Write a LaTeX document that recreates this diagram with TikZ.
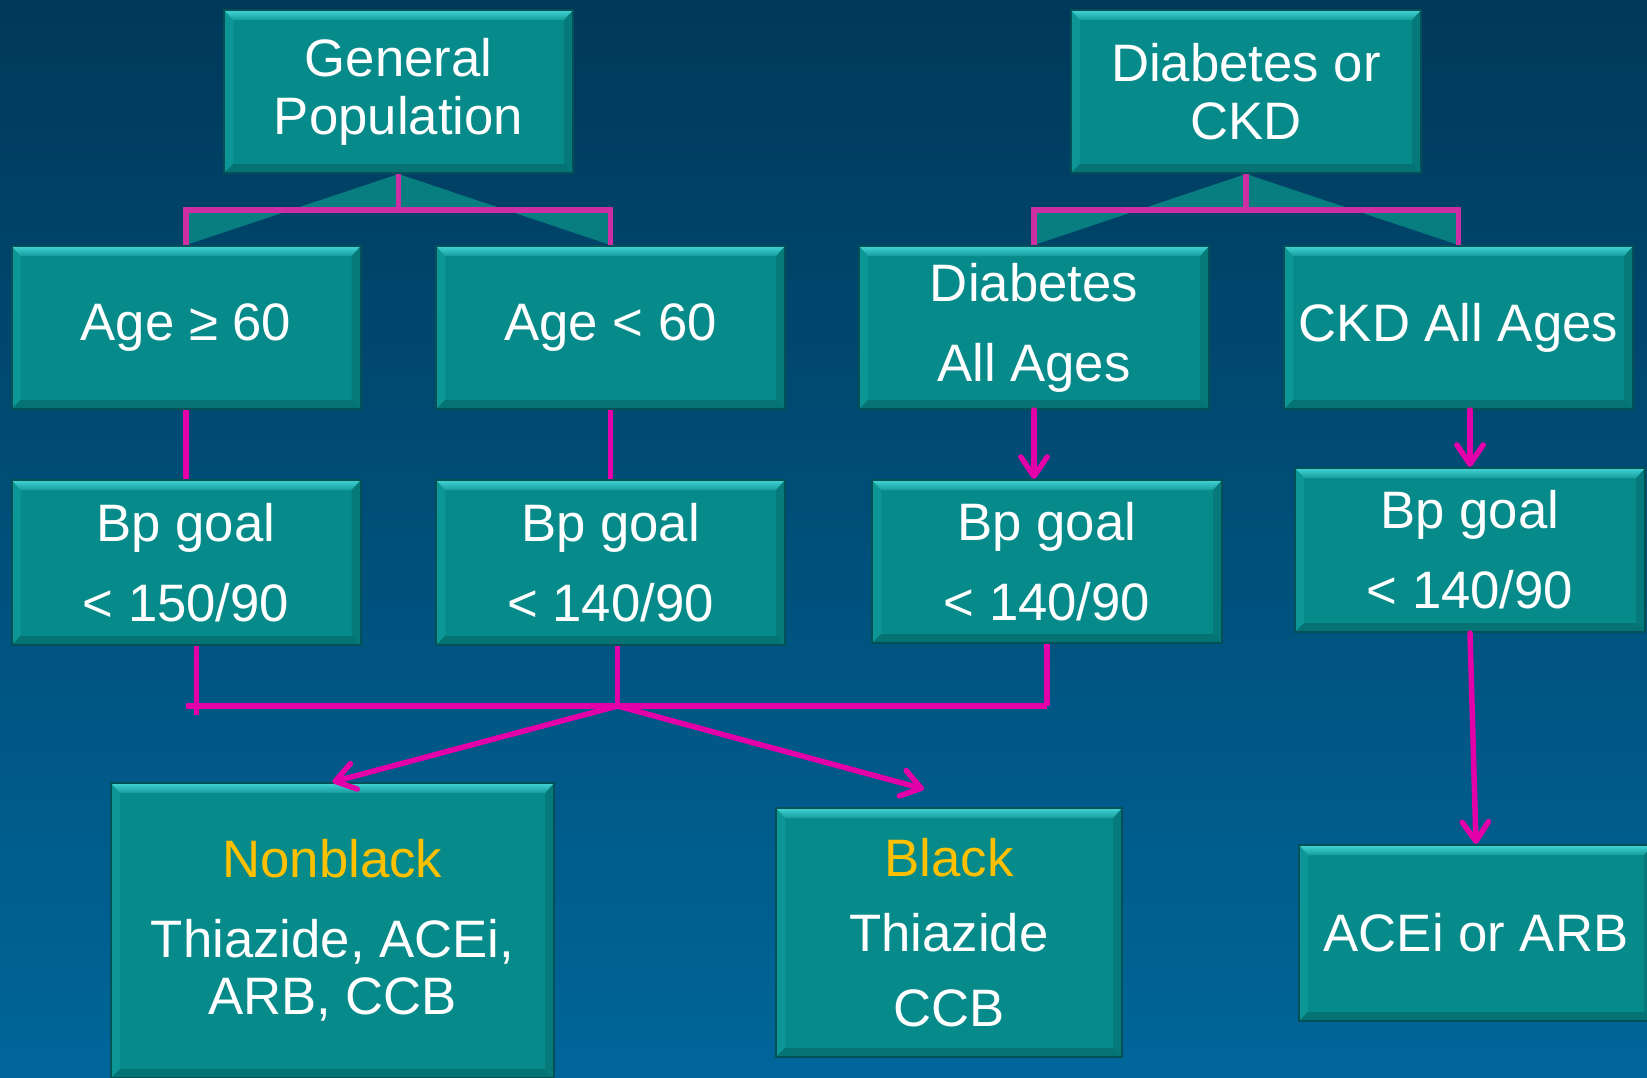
\documentclass[tikz,border=0pt]{standalone}
\usepackage{fontspec}
\setmainfont{Liberation Sans}
\usepackage{xcolor}
\definecolor{bgtop}{RGB}{0,57,90}
\definecolor{bgbot}{RGB}{0,102,154}
\definecolor{boxfill}{RGB}{7,138,138}
\definecolor{boxedge}{RGB}{3,80,86}
\definecolor{bevtop}{RGB}{66,212,212}
\definecolor{bevleft}{RGB}{12,150,150}
\definecolor{bevright}{RGB}{6,122,122}
\definecolor{bevbot}{RGB}{5,114,115}
\definecolor{wedgefill}{RGB}{8,126,128}
\definecolor{linkpink}{RGB}{228,0,168}
\definecolor{toppink}{RGB}{206,46,164}
\definecolor{ybl}{RGB}{255,192,0}
\usepackage{tikz}
\usetikzlibrary{arrows.meta, calc}
\newdimen\pxu \pxu=0.02cm

\begin{document}
\begin{tikzpicture}[
        x=0.02cm, y=-0.02cm,
        bevel/.style={path picture={
            \fill[bevleft] (path picture bounding box.north west) -- ([shift={(9,10)}]path picture bounding box.north west)
                -- ([shift={(9,-9)}]path picture bounding box.south west) -- (path picture bounding box.south west) -- cycle;
            \fill[bevright] (path picture bounding box.north east) -- ([shift={(-9,10)}]path picture bounding box.north east)
                -- ([shift={(-9,-9)}]path picture bounding box.south east) -- (path picture bounding box.south east) -- cycle;
            \fill[bevbot] (path picture bounding box.south west) -- ([shift={(9,-9)}]path picture bounding box.south west)
                -- ([shift={(-9,-9)}]path picture bounding box.south east) -- (path picture bounding box.south east) -- cycle;
            \shade[top color=bevtop, bottom color=boxfill!75!bevtop] (path picture bounding box.north west) -- (path picture bounding box.north east)
                -- ([shift={(-9,10)}]path picture bounding box.north east) -- ([shift={(9,10)}]path picture bounding box.north west) -- cycle;
        }},
        box/.style={rectangle, draw=boxedge, line width=2\pxu, fill=boxfill, bevel, text=white, align=center, inner sep=0pt,
            minimum width=349\pxu, minimum height=163\pxu, font=\fontsize{30pt}{45.5pt}\selectfont},
        tightbox/.style={box, font=\fontsize{30pt}{33pt}\selectfont},
        link/.style={draw=linkpink, line width=5.5\pxu},
        toplink/.style={draw=toppink, line width=5.5\pxu},
        arrow/.style={link, line cap=round, -{Straight Barb[length=11pt, width=15pt, round]}},
        wedge/.style={fill=wedgefill}
    ]
        % Background
        \shade[top color=bgtop, bottom color=bgbot] (0,0) rectangle (1647,1078);
        \useasboundingbox (0,0) rectangle (1647,1078);

        % Top level
        \node[tightbox] (genpop) at (398.5,91.5) {General\\Population};
        \node[tightbox, minimum width=350\pxu] (dmckd) at (1246,91.5) {Diabetes or\\CKD};

        % Groups
        \node[box] (agehi) at (186,327.5) {Age ≥ 60};
        \node[box] (agelo) at (610.5,327.5) {Age < 60};
        \node[box, minimum width=350\pxu] (diab) at (1034,327.5) {Diabetes\\All Ages};
        \node[box] (ckd) at (1458.5,327.5) {CKD All Ages};

        % Goals
        \node[box, minimum height=165\pxu] (bphi) at (186,562.5) {Bp goal\\< 150/90};
        \node[box, minimum height=165\pxu] (bplo) at (610.5,562.5) {Bp goal\\< 140/90};
        \node[box, minimum width=350\pxu] (bpdiab) at (1047,561.5) {Bp goal\\< 140/90};
        \node[box, minimum width=350\pxu, minimum height=164\pxu] (bpckd) at (1470,550) {Bp goal\\< 140/90};

        % Treatment
        \node[box, minimum width=443\pxu, minimum height=295\pxu, font=\fontsize{30pt}{32.4pt}\selectfont] (nonblack) at (332.5,930.5)
            {\textcolor{ybl}{Nonblack}\\[13pt]Thiazide, ACEi,\\ARB, CCB};
        \node[box, minimum width=346\pxu, minimum height=249\pxu, font=\fontsize{30pt}{42.7pt}\selectfont] (black) at (949,932.5)
            {\textcolor{ybl}{Black}\\Thiazide\\CCB};
        \node[box, minimum width=354\pxu, minimum height=176\pxu] (acearb) at (1476,933) {ACEi or ARB};

        % Top brackets
        \fill[wedge] (genpop.south) -- ++(0,36) -| (agehi.north) -- cycle;
        \fill[wedge] (genpop.south) -- ++(0,36) -| (agelo.north) -- cycle;
        \fill[wedge] (dmckd.south) -- ++(0,36) -| (diab.north) -- cycle;
        \fill[wedge] (dmckd.south) -- ++(0,36) -| (ckd.north) -- cycle;
        \draw[toplink] (genpop.south) -- ++(0,36);
        \draw[toplink] (agehi.north) -- ++(0,-35) -| (agelo.north);
        \draw[toplink] (dmckd.south) -- ++(0,36);
        \draw[toplink] (diab.north) -- ++(0,-35) -| (ckd.north);

        % Down to goals
        \draw[link] (agehi.south) -- (bphi.north);
        \draw[link] (agelo.south) -- (bplo.north);
        \draw[arrow] (diab.south) -- (diab.south |- bpdiab.north);
        \draw[arrow] (ckd.south -| bpckd.north) -- (bpckd.north);
        \draw[arrow] (bpckd.south) -- (acearb.north);

        % Bottom bracket
        \coordinate (join) at ([xshift=4]bplo.south |- 0,706);
        \draw[link] ([xshift=6]bphi.south) -- ++(0,69);
        \draw[link] ([xshift=4]bplo.south) -- (join);
        \draw[link] (bpdiab.south) -- (bpdiab.south |- join);
        \draw[link] (bphi.south |- join) -- (bpdiab.south |- join);
        \draw[arrow] (join) -- (nonblack.north);
        \draw[arrow] (join) -- ([shift={(-25,-18)}]black.north);
    \end{tikzpicture}
\end{document}
